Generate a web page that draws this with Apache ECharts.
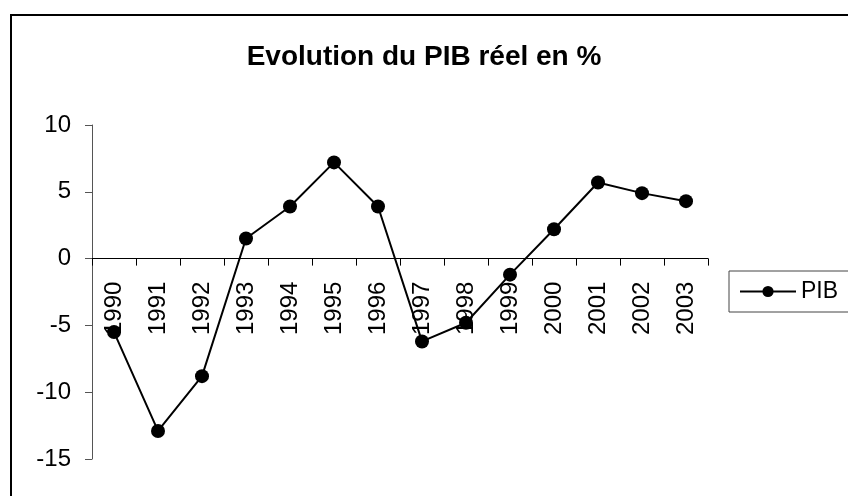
<!DOCTYPE html>
<html>
<head>
<meta charset="utf-8">
<script src="https://cdn.jsdelivr.net/npm/echarts@6/dist/echarts.min.js"></script>
<style>
  html, body { margin: 0; padding: 0; background: #fff; }
  #chart { width: 848px; height: 496px; }
</style>
</head>
<body>
<div id="chart"></div>
<script>
var years = ['1990', '1991', '1992', '1993', '1994', '1995', '1996', '1997', '1998', '1999', '2000', '2001', '2002', '2003'];
var pib = [-5.5, -12.9, -8.8, 1.5, 3.9, 7.2, 3.9, -6.2, -4.8, -1.2, 2.2, 5.7, 4.9, 4.3];
var yTicks = { min: -15, max: 10, step: 5 };

var myChart = echarts.init(document.getElementById('chart'));
var font = 'Liberation Sans, Arial, sans-serif';

var option = {
    animation: false,
    backgroundColor: '#fff',
    title: {
        text: 'Evolution du PIB réel en %',
        left: 'center',
        top: 38,
        textStyle: { fontFamily: font, fontSize: 28, fontWeight: 'bold', color: '#000' }
    },
    legend: {
        left: 729,
        top: 271,
        data: ['PIB'],
        itemWidth: 56,
        itemHeight: 14,
        itemGap: 5,
        padding: [9, 60, 9, 10],
        borderColor: '#444',
        borderWidth: 1,
        textStyle: { fontFamily: font, fontSize: 23, color: '#000' }
    },
    graphic: [{
        type: 'rect',
        shape: { x: 11, y: 15, width: 860, height: 500 },
        style: { fill: 'none', stroke: '#000', lineWidth: 2 }
    }],
    grid: { left: 92, top: 125, right: 140, bottom: 37, containLabel: false, outerBoundsMode: 'none' },
    xAxis: {
        type: 'category',
        data: years,
        position: 'bottom',
        offset: 0,
        boundaryGap: true,
        axisLine: { onZero: false, lineStyle: { color: '#000', width: 1 } },
        axisTick: { show: true, length: 7, lineStyle: { color: '#000' } },
        axisLabel: { rotate: 90, margin: 23, fontFamily: font, fontSize: 24, color: '#000', interval: 0 },
        splitLine: { show: false }
    },
    yAxis: {
        type: 'value',
        min: yTicks.min,
        max: yTicks.max,
        interval: yTicks.step,
        axisLine: { show: true, lineStyle: { color: '#555', width: 1 } },
        axisTick: { show: true, length: 7, lineStyle: { color: '#555' } },
        axisLabel: { margin: 21, fontFamily: font, fontSize: 24, color: '#000' },
        splitLine: { show: false }
    },
    series: [{
        name: 'PIB',
        type: 'line',
        data: pib,
        symbol: 'circle',
        symbolSize: 14,
        itemStyle: { color: '#000' },
        lineStyle: { color: '#000', width: 2 }
    }]
};

myChart.setOption(option);

// move the category axis (line, ticks and labels) up to the zero line
var zeroPx = myChart.convertToPixel({ yAxisIndex: 0 }, 0);
var bottomPx = myChart.convertToPixel({ yAxisIndex: 0 }, yTicks.min);
myChart.setOption({ xAxis: { offset: zeroPx - bottomPx } });
</script>
</body>
</html>
